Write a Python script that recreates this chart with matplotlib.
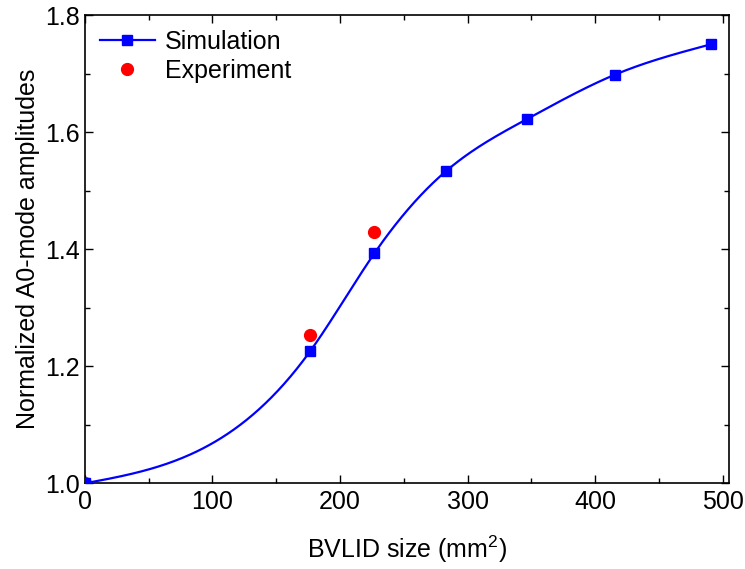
import matplotlib
matplotlib.use("Agg")
import matplotlib.pyplot as plt
import numpy as np
from matplotlib.ticker import MultipleLocator

plt.rcParams['font.family'] = ['Liberation Sans', 'DejaVu Sans']
plt.rcParams['mathtext.fontset'] = 'custom'
plt.rcParams['mathtext.rm'] = 'Liberation Sans'

# data
sim_x = [0, 176.7, 227.0, 283.5, 346.4, 415.5, 490.9]
sim_y = [1.0, 1.226, 1.393, 1.534, 1.622, 1.698, 1.750]
exp_x = [0, 176.7, 227.0]
exp_y = [1.0, 1.253, 1.430]


def natural_spline(x, y, n=400):
    # smooth connecting line (like Origin's spline connect), drawn through the data
    x = np.asarray(x, float)
    y = np.asarray(y, float)
    k = len(x)
    h = np.diff(x)
    A = np.zeros((k, k))
    r = np.zeros(k)
    A[0, 0] = A[-1, -1] = 1
    for i in range(1, k - 1):
        A[i, i - 1] = h[i - 1]
        A[i, i] = 2 * (h[i - 1] + h[i])
        A[i, i + 1] = h[i]
        r[i] = 6 * ((y[i + 1] - y[i]) / h[i] - (y[i] - y[i - 1]) / h[i - 1])
    M = np.linalg.solve(A, r)
    xs = np.linspace(x[0], x[-1], n)
    idx = np.clip(np.searchsorted(x, xs) - 1, 0, k - 2)
    x0, x1 = x[idx], x[idx + 1]
    hh = x1 - x0
    a = (x1 - xs) / hh
    b = (xs - x0) / hh
    ys = (a * y[idx] + b * y[idx + 1]
          + ((a ** 3 - a) * M[idx] + (b ** 3 - b) * M[idx + 1]) * hh ** 2 / 6)
    return xs, ys


fig = plt.figure(figsize=(7.45, 5.69), dpi=100)
ax = fig.add_axes([0.114, 0.1506, 0.8645, 0.823])

xs, ys = natural_spline(sim_x, sim_y)
ax.plot(exp_x, exp_y, 'o', color='#ff0000', markersize=8.5, linestyle='none', zorder=2)
ax.plot(xs, ys, '-', color='#0000ff', linewidth=1.6, zorder=3)
ax.plot(sim_x, sim_y, 's', color='#0000ff', markersize=7, zorder=4)
# proxy handles for legend
h1, = ax.plot([], [], '-s', color='#0000ff', linewidth=1.6, markersize=7)
h2, = ax.plot([], [], 'o', color='#ff0000', markersize=8.5)
ax.legend([h1, h2], ['Simulation', 'Experiment'], loc='upper left', frameon=False,
          fontsize=18, handlelength=2.2, handletextpad=0.4,
          borderaxespad=0.3, borderpad=0.3, labelspacing=0.2)

ax.set_xlim(0, 505)
ax.set_ylim(1.0, 1.8)
ax.xaxis.set_major_locator(MultipleLocator(100))
ax.xaxis.set_minor_locator(MultipleLocator(50))
ax.yaxis.set_major_locator(MultipleLocator(0.2))
ax.yaxis.set_minor_locator(MultipleLocator(0.1))
ax.tick_params(which='both', direction='in', top=True, right=True, labelsize=18)
ax.tick_params(axis='x', pad=5)
ax.tick_params(which='major', length=6, width=1)
ax.tick_params(which='minor', length=3.5, width=1)
for s in ax.spines.values():
    s.set_linewidth(1.2)

ax.set_xlabel('BVLID size (mm$^2$)', fontsize=18, labelpad=14)
ax.set_ylabel('Normalized A0-mode amplitudes', fontsize=18)

plt.savefig('out.png', dpi=100)
